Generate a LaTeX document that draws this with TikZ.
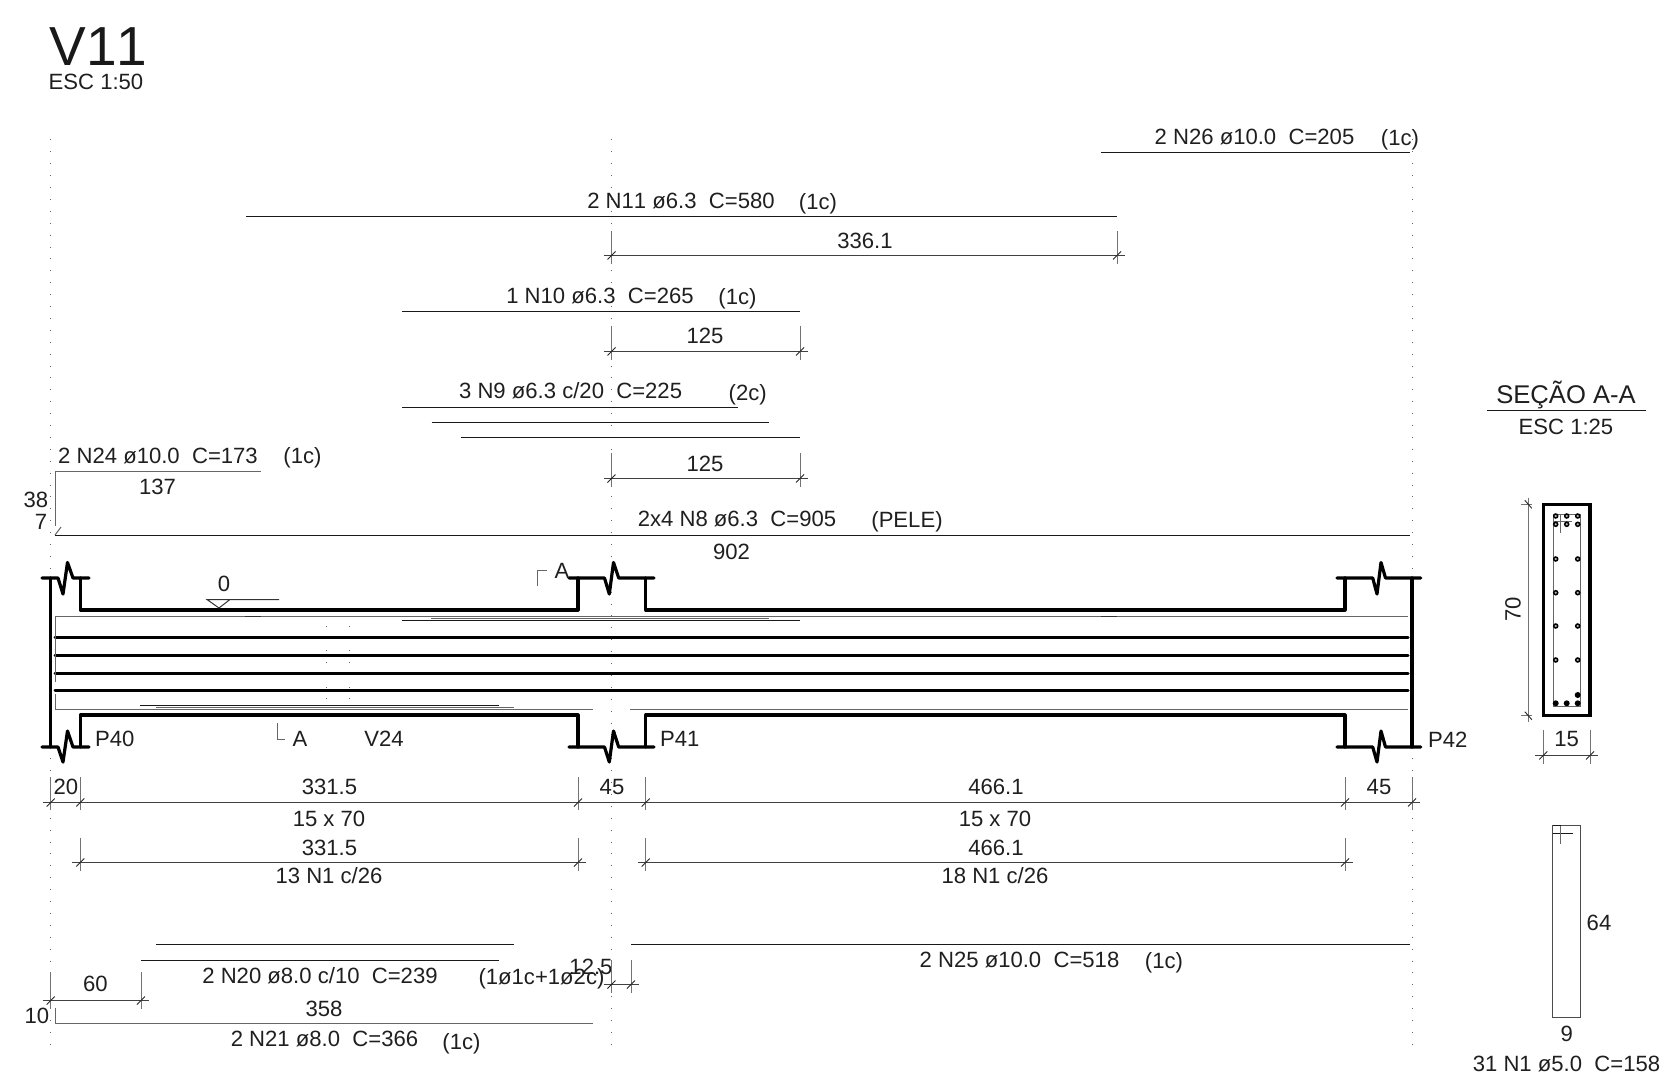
\documentclass[tikz,border=0pt]{standalone}
\usepackage{fontspec}
\setmainfont[Kerning=Off]{Liberation Sans}
\newcommand{\dimH}[4]{% x1,x2,y,exttop
  \draw[dimline] (#1-8,#3) -- (#2+8,#3);
  \draw[extline] (#1,#4) -- (#1,#3+8);
  \draw[extline] (#2,#4) -- (#2,#3+8);
  \draw[tickline] (#1-4,#3+4) -- (#1+4,#3-4);
  \draw[tickline] (#2-4,#3+4) -- (#2+4,#3-4);
}
\begin{document}
\begin{tikzpicture}[x=1pt,y=-1pt,
  lbl/.style={inner sep=0pt,text height=15.7pt,text depth=0pt,font=\fontsize{22.1}{26}\selectfont,text=black!88},
  big/.style={inner sep=0pt,text height=18pt,text depth=0pt,font=\fontsize{25.6}{30}\selectfont,text=black!88},
  conc/.style={line width=3.2pt,line cap=round,line join=round,black},
  rebar/.style={line width=3pt,line cap=round,black},
  bar/.style={line width=1pt,black!90},
  thinl/.style={line width=1pt,black!60},
  dimline/.style={line width=1pt,black!75},
  extline/.style={line width=1pt,black!55},
  tickline/.style={line width=0.9pt,black!85},
  axisdots/.style={line width=1pt,black!60,dash pattern=on 1pt off 10.9pt},
  sectdot/.style={line width=1.5pt,draw=black,fill=black!30,circle,inner sep=0pt,minimum size=4pt},
  fulldot/.style={fill=black,circle,inner sep=0pt,minimum size=6pt}]
\useasboundingbox (0,0) rectangle (1663,1082);
\fill[white] (0,0) rectangle (1663,1082);

% axes
\foreach \ax in {50.7,611.5,1412} \draw[axisdots] (\ax,139.4) -- (\ax,1048);
\foreach \ax in {326,349} \foreach \ay in {626.7,650,662,687,698} \fill[black!60] (\ax-.5,\ay-.5) rectangle (\ax+.5,\ay+.5);

% title
\node[inner sep=0pt,text height=39.4pt,text depth=0pt,font=\fontsize{55}{60}\selectfont,text=black!90] (title) at (98.5,45.5) {V11};
\node[lbl] (esc50) at (96,81.7) {ESC 1:50};

% concrete outline
\draw[conc] (42,578) -- (58,578) -- (63,594) -- (67.5,562.5) -- (73,578) -- (89,578);
\draw[conc] (42,747) -- (58,747) -- (63,762) -- (67.5,731) -- (73,747) -- (89,747);
\draw[conc] (50.7,578) -- (50.7,747);
\draw[conc] (80.3,578) -- (80.3,610) -- (578,610) -- (578,578);
\draw[conc] (569,578) -- (604.5,578) -- (609.3,594) -- (613.5,562.5) -- (618.7,578) -- (654,578);
\draw[conc] (645.7,578) -- (645.7,610) -- (1345,610) -- (1345,578);
\draw[conc] (1337,578) -- (1372.7,578) -- (1377,594) -- (1381,562.5) -- (1385.5,578) -- (1420.7,578);
\draw[conc] (1412,578) -- (1412,747);
\draw[conc] (80.3,747) -- (80.3,715) -- (578,715) -- (578,747);
\draw[conc] (569,747) -- (604.5,747) -- (609.3,762) -- (613.5,731) -- (618.7,747) -- (654,747);
\draw[conc] (645.7,747) -- (645.7,715) -- (1345,715) -- (1345,747);
\draw[conc] (1337,747) -- (1372.7,747) -- (1377,762) -- (1381,731) -- (1385.5,747) -- (1420.7,747);

% longitudinal bars in elevation
\foreach \ry in {637.7,655.7,673.2,690.8} \draw[rebar] (55,\ry) -- (1408,\ry);
\draw[thinl] (55,682) -- (55,616.5) -- (1408,616.5);
\draw[thinl] (55,694) -- (55,709.5) -- (593,709.5);
\draw[thinl] (630,709.5) -- (1408,709.5);
\draw[line width=1.6pt,black!80] (245,616.5) -- (261,616.5);
\draw[line width=1.6pt,black!80] (1101,616.5) -- (1117,616.5);
\draw[bar] (402,620.5) -- (800,620.5);
\draw[thinl] (431,618.5) -- (769,618.5);
\draw[bar] (140,705.5) -- (499,705.5);
\draw[thinl] (156,707.5) -- (514,707.5);

% level mark
\draw[thinl,black!80] (279,599.5) -- (207,599.5) -- (219,608) -- (230,599.5);
\node[lbl] (lev) at (224,584) {0};

% section marks and labels
\draw[thinl] (277,723) -- (277,739) -- (285,739);
\node[lbl] (secA1) at (300,739) {A};
\draw[thinl] (537,586) -- (537,570) -- (547,570);
\node[lbl] (secA2) at (562,571) {A};
\node[lbl,anchor=west] (p40) at (95,739) {P40};
\node[lbl] (v24) at (384,739) {V24};
\node[lbl,anchor=west] (p41) at (660,739) {P41};
\node[lbl,anchor=west] (p42) at (1428,740) {P42};

% N26
\draw[bar] (1101,152.5) -- (1409.5,152.5);
\node[lbl] (n26) at (1254.5,137) {2 N26 ø10.0\ \ C=205};
\node[lbl] (n26c) at (1400,138) {(1c)};
% N11
\draw[bar] (246,216.5) -- (1117,216.5);
\node[lbl] (n11) at (681,200.5) {2 N11 ø6.3\ \ C=580};
\node[lbl] (n11c) at (818,201.5) {(1c)};
\dimH{611.5}{1117}{255.5}{231}
\node[lbl] (d336) at (865,240.8) {336.1};
% N10
\draw[bar] (402,311.5) -- (800,311.5);
\node[lbl] (n10) at (600,296) {1 N10 ø6.3\ \ C=265};
\node[lbl] (n10c) at (737.5,297) {(1c)};
\dimH{611.5}{800}{351.5}{326}
\node[lbl] (d125a) at (705,336) {125};
% N9
\draw[bar] (402,407.5) -- (738,407.5);
\draw[bar] (431.7,422.5) -- (769,422.5);
\draw[bar] (461.4,437.5) -- (800,437.5);
\node[lbl] (n9) at (570.6,390.5) {3 N9 ø6.3 c/20\ \ C=225};
\node[lbl] (n9c) at (747.7,392.4) {(2c)};
\dimH{611.5}{800}{478.5}{453}
\node[lbl] (d125b) at (705,463.5) {125};
% N24
\draw[thinl] (261,471.5) -- (55,471.5) -- (55,526);
\draw[thinl] (55,535) -- (61,527);
\node[lbl] (n24) at (158,455.5) {2 N24 ø10.0\ \ C=173};
\node[lbl] (n24c) at (302.5,456) {(1c)};
\node[lbl] (d137) at (157.5,487) {137};
\node[lbl] (d38) at (36,499.5) {38};
\node[lbl] (d7) at (41,522) {7};
% N8
\draw[bar] (55,535.5) -- (1409.5,535.5);
\node[lbl] (n8) at (737,518.6) {2x4 N8 ø6.3\ \ C=905};
\node[lbl] (n8c) at (907,520) {(PELE)};
\node[lbl] (d902) at (731.5,551.5) {902};

% span dimensions
\draw[dimline] (42.7,802.5) -- (1420,802.5);
\foreach \dx in {50.7,80.3,578,645.7,1345,1412} {
  \draw[extline] (\dx,777) -- (\dx,810);
  \draw[tickline] (\dx-4,806.5) -- (\dx+4,798.5);
}
\node[lbl] (s20) at (65.8,787) {20};
\node[lbl] (s331) at (329.5,787) {331.5};
\node[lbl] (s45a) at (612,787) {45};
\node[lbl] (s466) at (996,787) {466.1};
\node[lbl] (s45b) at (1379,787) {45};
\node[lbl] (sec1) at (329,819) {15 x 70};
\node[lbl] (sec2) at (995,819) {15 x 70};
\dimH{80.3}{578}{862.5}{838}
\dimH{645.7}{1345}{862.5}{838}
\node[lbl] (s331b) at (329.5,847.4) {331.5};
\node[lbl] (s466b) at (996,847.4) {466.1};
\node[lbl] (st13) at (329,876) {13 N1 c/26};
\node[lbl] (st18) at (995,876) {18 N1 c/26};

% lower bars
\draw[bar] (156,944.5) -- (514,944.5);
\draw[bar] (141,960.5) -- (498.5,960.5);
\draw[bar] (631,944.5) -- (1409.5,944.5);
\node[lbl] (n25) at (1019.5,960) {2 N25 ø10.0\ \ C=518};
\node[lbl] (n25c) at (1164,961) {(1c)};
\node[lbl] (n20) at (320,976) {2 N20 ø8.0 c/10\ \ C=239};
\node[lbl] (n20c) at (541.5,977) {(1ø1c+1ø2c)};
\node[lbl] (d125) at (591,967) {12.5};
\dimH{611.5}{631}{984.5}{960}
\dimH{50.7}{141}{1000.5}{972}
\node[lbl] (d60) at (95.5,984) {60};
\node[lbl] (d10) at (37,1016) {10};
\draw[thinl] (55,1007.5) -- (55,1023.5) -- (593,1023.5);
\node[lbl] (d358) at (324,1009) {358};
\node[lbl] (n21) at (324.5,1039) {2 N21 ø8.0\ \ C=366};
\node[lbl] (n21c) at (461.5,1041.5) {(1c)};

% section A-A
\node[big] (sect) at (1566,394) {SEÇÃO A-A};
\draw[bar] (1486.7,410.5) -- (1646,410.5);
\node[lbl] (esc25) at (1566,426.7) {ESC 1:25};
\draw[line width=3.2pt,black] (1543.3,504.3) rectangle (1590,715.7);
\draw[thinl] (1553.3,514) rectangle (1580,706);
\draw[thinl] (1560.7,514) -- (1560.7,533);
\draw[thinl] (1553.3,521.7) -- (1572,521.7);
\foreach \bx in {1555.7,1566.7,1577.7} \foreach \by in {516,524.3} \node[sectdot] at (\bx,\by) {};
\foreach \bx in {1555.7,1577.7} \foreach \by in {559,592.7,626,660} \node[sectdot] at (\bx,\by) {};
\foreach \bx/\by in {1555.7/703.3,1566.7/703.3,1577.7/703.3,1577.7/695} \node[fulldot] at (\bx,\by) {};
% dimension 70
\draw[extline] (1528.3,497.7) -- (1528.3,722.3);
\draw[extline] (1521,504.3) -- (1532,504.3);
\draw[extline] (1521,715.7) -- (1532,715.7);
\draw[tickline] (1524.8,500.3) -- (1531.8,508.3);
\draw[tickline] (1524.8,711.7) -- (1531.8,719.7);
\node[lbl,rotate=90] (d70) at (1512.7,609) {70};
% dimension 15
\dimH{1543.3}{1590}{755.5}{730}
\node[lbl] (d15) at (1566.7,739) {15};

% stirrup
\draw[thinl,black!70] (1552.7,825.7) rectangle (1580,1017.7);
\draw[bar] (1552.7,833.5) -- (1572.7,833.5);
\draw[thinl] (1560.7,825.7) -- (1560.7,844);
\draw[bar] (1552.7,825.7) -- (1561,825.7);
\node[lbl] (d64) at (1599,923) {64};
\node[lbl] (d9) at (1566.7,1034) {9};
\node[lbl] (n1) at (1566.5,1064) {31 N1 ø5.0\ \ C=158};
\end{tikzpicture}
\end{document}
